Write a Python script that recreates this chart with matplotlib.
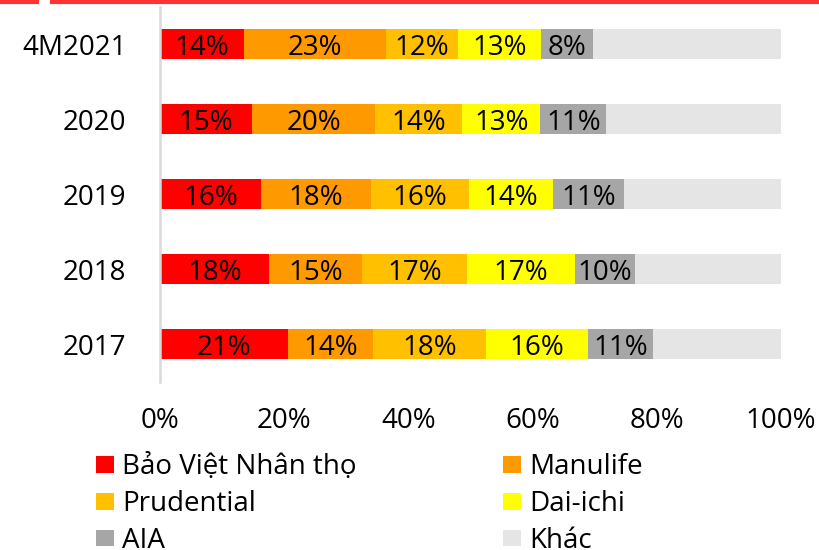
import matplotlib
matplotlib.use('Agg')
import matplotlib.pyplot as plt
from matplotlib.lines import Line2D

plt.rcParams['font.family'] = ['Open Sans', 'DejaVu Sans']

years = ['4M2021', '2020', '2019', '2018', '2017']
bao_viet = [13.5, 14.8, 16.3, 17.6, 20.6]
manulife = [22.9, 19.9, 17.7, 15.0, 13.8]
prudential = [11.6, 14.0, 15.8, 16.8, 18.2]
dai_ichi = [13.4, 12.6, 13.6, 17.4, 16.3]
aia = [8.3, 10.6, 11.3, 9.8, 10.6]
companies = ['Bảo Việt Nhân thọ', 'Manulife', 'Prudential', 'Dai-ichi', 'AIA']
colors = ['#FF0000', '#FF9900', '#FFC000', '#FFFF00', '#A6A6A6', '#E5E5E5']

series = [bao_viet, manulife, prudential, dai_ichi, aia]
khac = [100 - sum(s[i] for s in series) for i in range(len(years))]

fig = plt.figure(figsize=(8.2, 5.5), dpi=100)
ax = fig.add_axes([0.195, 0.306, 0.757, 0.682])

ypos = list(range(len(years)))[::-1]
left = [0.0] * len(years)
handles = []
for name, vals, col in zip(companies + ['Khác'], series + [khac], colors):
    bars = ax.barh(ypos, vals, left=left, height=0.4, color=col, label=name)
    if name != 'Khác':
        txts = ax.bar_label(bars, labels=[f'{v:.0f}%' for v in vals], label_type='center',
                            fontsize=20, color='black')
        for t in txts:
            t.set_va('center_baseline')
    handles.append(bars)
    left = [a + b for a, b in zip(left, vals)]

ax.set_xlim(0, 100)
ax.set_ylim(-0.5, 4.5)
ax.set_yticks(ypos)
ax.set_yticklabels(years)
ax.set_xticks([0, 20, 40, 60, 80, 100])
ax.set_xticklabels([f'{t}%' for t in [0, 20, 40, 60, 80, 100]])
ax.tick_params(axis='both', length=0, labelsize=20)
ax.tick_params(axis='x', pad=18)
ax.tick_params(axis='y', pad=24)
for s in ['top', 'right', 'bottom']:
    ax.spines[s].set_visible(False)
ax.spines['left'].set_color('#D9D9D9')
ax.spines['left'].set_linewidth(1.8)

# legend filled row by row, like the original
order = [0, 2, 4, 1, 3, 5]
fig.legend(handles=[handles[i] for i in order], loc='upper left', bbox_to_anchor=(0.117, 0.176),
           ncol=2, frameon=False, fontsize=20, handlelength=0.65, handleheight=0.54,
           handletextpad=0.29, columnspacing=5.27, labelspacing=0.32,
           borderaxespad=0, borderpad=0)

# red strip along the top edge
fig.add_artist(Line2D([0, 37 / 820], [0.997, 0.997], color='#FF3333', lw=3))
fig.add_artist(Line2D([52 / 820, 1], [0.997, 0.997], color='#FF3333', lw=3))

fig.savefig('out.png', dpi=100)
